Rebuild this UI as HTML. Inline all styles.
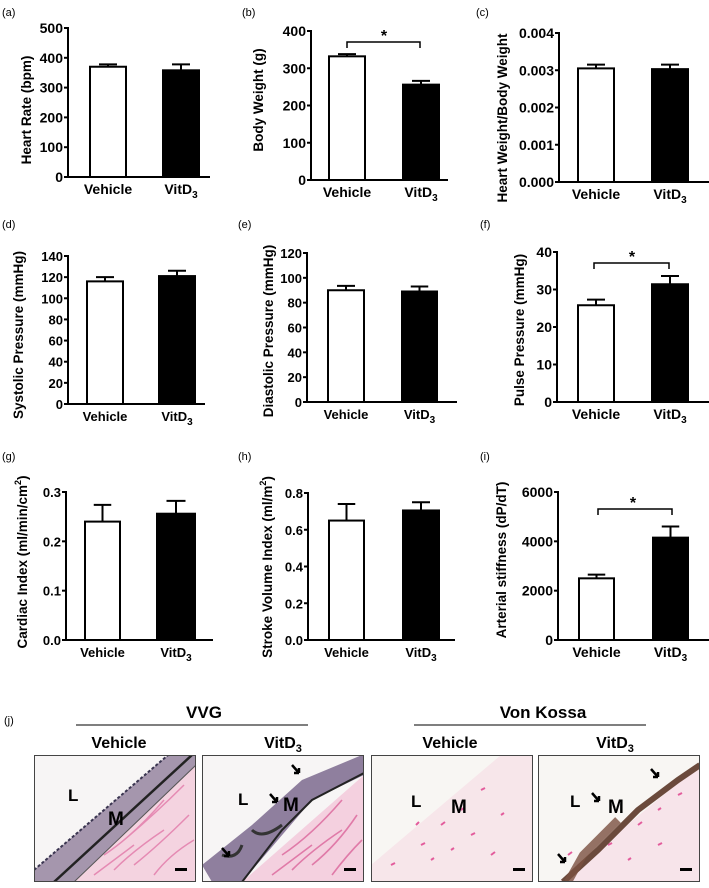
<!DOCTYPE html>
<html><head><meta charset="utf-8"><style>
html,body{margin:0;padding:0;background:#fff;}
svg{display:block;font-family:"Liberation Sans",Arial,sans-serif;}
</style></head><body>
<svg id="fig" width="709" height="888" viewBox="0 0 709 888" xmlns="http://www.w3.org/2000/svg">
<defs>
<clipPath id="c1"><rect x="0" y="0" width="162" height="127"/></clipPath>
</defs>
<g id="charts"></g>

<!-- Panel j -->
<g font-weight="bold">
<text x="4" y="724" font-size="11" font-weight="normal">(j)</text>
<text x="204" y="718" font-size="17" text-anchor="middle">VVG</text>
<line x1="76" y1="725" x2="308" y2="725" stroke="#333" stroke-width="1.2"/>
<text x="543" y="718" font-size="17" text-anchor="middle">Von Kossa</text>
<line x1="414" y1="725" x2="646" y2="725" stroke="#333" stroke-width="1.2"/>
<text x="119" y="748" font-size="16" text-anchor="middle">Vehicle</text>
<text x="283" y="748" font-size="16" text-anchor="middle">VitD<tspan font-size="11" dy="4">3</tspan></text>
<text x="450" y="748" font-size="16" text-anchor="middle">Vehicle</text>
<text x="615" y="748" font-size="16" text-anchor="middle">VitD<tspan font-size="11" dy="4">3</tspan></text>

<g transform="translate(34,755)">
<g clip-path="url(#c1)">
<rect width="162" height="127" fill="#f7f5f5"/>
<polygon points="40,127 162,10 162,127" fill="#f4d3e0"/>
<path d="M60,120 q20,-15 40,-30 M80,115 q20,-20 50,-40 M100,110 q25,-20 55,-50 M70,100 q30,-20 60,-55 M120,120 q15,-20 40,-35 M90,85 q30,-25 60,-55" stroke="#e58ab3" stroke-width="1.5" fill="none"/>
<polygon points="0,115 0,127 40,127 162,10 162,-5 140,-5" fill="#a596ad"/>
<path d="M0,115 L140,-5" stroke="#3a3550" stroke-width="2" fill="none" stroke-dasharray="3,2"/>
<path d="M20,127 L158,0" stroke="#222" stroke-width="2.5" fill="none"/>
<path d="M40,127 L162,10" stroke="#555" stroke-width="1" fill="none"/>
</g>
<rect x="0.5" y="0.5" width="161" height="126" fill="none" stroke="#444"/>
<text x="34" y="46" font-size="17">L</text>
<text x="74" y="70" font-size="19">M</text>
<rect x="141" y="113" width="12" height="3" fill="#000"/>
</g>

<g transform="translate(202,755)">
<g clip-path="url(#c1)">
<rect width="162" height="127" fill="#f7f5f5"/>
<polygon points="40,127 162,20 162,127" fill="#f4d0df"/>
<path d="M70,120 q20,-15 40,-30 M90,115 q20,-20 50,-40 M110,110 q25,-20 45,-50 M80,100 q30,-20 60,-55 M130,120 q15,-20 30,-35" stroke="#e07aa8" stroke-width="1.6" fill="none"/>
<polygon points="10,127 0,110 50,70 100,25 160,0 162,0 162,20 110,45 40,127" fill="#8f7f9e"/>
<path d="M40,127 L80,75 L110,45 L162,18" stroke="#222" stroke-width="2" fill="none"/>
<path d="M50,75 q10,10 30,-5 M20,100 q15,5 20,-10" stroke="#333" stroke-width="3" fill="none"/>
</g>
<rect x="0.5" y="0.5" width="161" height="126" fill="none" stroke="#444"/>
<text x="36" y="50" font-size="17">L</text>
<text x="81" y="56" font-size="19">M</text>
<path d="M90,10 l7,8 M97,18 l-5,0 M97,18 l0,-5" stroke="#000" stroke-width="2.5" fill="none"/>
<path d="M68,39 l7,8 M75,47 l-5,0 M75,47 l0,-5" stroke="#000" stroke-width="2.5" fill="none"/>
<path d="M20,93 l7,8 M27,101 l-5,0 M27,101 l0,-5" stroke="#000" stroke-width="2.5" fill="none"/>
<rect x="142" y="113" width="12" height="3" fill="#000"/>
</g>

<g transform="translate(371,755)">
<g clip-path="url(#c1)">
<rect width="162" height="127" fill="#f8f6f3"/>
<polygon points="0,127 0,110 130,0 162,0 162,127" fill="#f7e6ea"/>
<path d="M20,110 l4,-2 M50,90 l4,-2 M70,70 l4,-3 M90,55 l3,-2 M110,35 l4,-2 M60,105 l3,-2 M100,80 l4,-2 M130,60 l3,-2 M80,95 l3,-2 M120,100 l4,-3 M45,70 l3,-3" stroke="#e35c9c" stroke-width="2"/>
</g>
<rect x="0.5" y="0.5" width="161" height="126" fill="none" stroke="#444"/>
<text x="40" y="52" font-size="17">L</text>
<text x="80" y="58" font-size="19">M</text>
<rect x="142" y="113" width="12" height="3" fill="#000"/>
</g>

<g transform="translate(538,755)">
<g clip-path="url(#c1)">
<rect width="162" height="127" fill="#f8f6f3"/>
<polygon points="20,127 162,10 162,127" fill="#f7e4ea"/>
<path d="M40,110 l4,-2 M70,90 l4,-2 M100,70 l4,-3 M120,55 l3,-2 M140,40 l4,-2 M90,105 l3,-2 M120,90 l4,-2 M30,100 l4,-3" stroke="#e35c9c" stroke-width="2"/>
<path d="M25,127 L60,95 L100,55 L140,25 L162,10" stroke="#6b4a3c" stroke-width="6" fill="none"/>
<path d="M30,127 L45,100 L80,65" stroke="#7a5040" stroke-width="8" fill="none" opacity="0.8"/>
</g>
<rect x="0.5" y="0.5" width="161" height="126" fill="none" stroke="#444"/>
<text x="32" y="52" font-size="17">L</text>
<text x="70" y="58" font-size="19">M</text>
<path d="M113,14 l7,8 M120,22 l-5,0 M120,22 l0,-5" stroke="#000" stroke-width="2.5" fill="none"/>
<path d="M54,38 l7,8 M61,46 l-5,0 M61,46 l0,-5" stroke="#000" stroke-width="2.5" fill="none"/>
<path d="M20,99 l7,8 M27,107 l-5,0 M27,107 l0,-5" stroke="#000" stroke-width="2.5" fill="none"/>
<rect x="142" y="113" width="12" height="3" fill="#000"/>
</g>
</g>
</svg>
<script>
// ---- data ----
const categories = ["Vehicle", "VitD3"];
const heartRate = [370, 358];         const heartRateErr = [8, 20];
const bodyWeight = [332, 256];        const bodyWeightErr = [6, 10];
const hwbw = [0.00305, 0.00303];      const hwbwErr = [0.0001, 0.00012];
const systolic = [116, 121];          const systolicErr = [4, 5];
const diastolic = [90, 89];           const diastolicErr = [3.5, 4];
const pulse = [25.8, 31.4];           const pulseErr = [1.5, 2.2];
const cardiacIndex = [0.24, 0.256];   const cardiacIndexErr = [0.034, 0.026];
const strokeVol = [0.65, 0.705];      const strokeVolErr = [0.09, 0.045];
const stiffness = [2500, 4150];       const stiffnessErr = [150, 450];
const ticksA = ["0","100","200","300","400","500"];
const ticksB = ["0","100","200","300","400"];
const ticksC = ["0.000","0.001","0.002","0.003","0.004"];
const ticksD = ["0","20","40","60","80","100","120","140"];
const ticksE = ["0","20","40","60","80","100","120"];
const ticksF = ["0","10","20","30","40"];
const ticksG = ["0.0","0.1","0.2","0.3"];
const ticksH = ["0.0","0.2","0.4","0.6","0.8"];
const ticksI = ["0","2000","4000","6000"];

// ---- layout ----
const panels = [
 {id:"a",label:"(a)",lx:2,ly:16,ax:68,top:28,bot:177,end:210,bars:[[90,126],[163,199]],vals:heartRate,errs:heartRateErr,ticks:ticksA,title:"Heart Rate (bpm)",tx:31,ty:110,fs:14},
 {id:"b",label:"(b)",lx:242,ly:16,ax:311,top:31,bot:180,end:448,bars:[[329,365],[403,439]],vals:bodyWeight,errs:bodyWeightErr,ticks:ticksB,title:"Body Weight (g)",tx:263,ty:100,fs:14,sig:{x1:347,x2:420,y:42,sx:384,sy:42}},
 {id:"c",label:"(c)",lx:476,ly:16,ax:559,top:33,bot:182,end:709,bars:[[578,614],[652,688]],vals:hwbw,errs:hwbwErr,ticks:ticksC,title:"Heart Weight/Body Weight",tx:507,ty:118,fs:14},
 {id:"d",label:"(d)",lx:2,ly:228,ax:68,top:256,bot:404,end:205,bars:[[87,123],[159,195]],vals:systolic,errs:systolicErr,ticks:ticksD,title:"Systolic Pressure (mmHg)",tx:23,ty:335,fs:13},
 {id:"e",label:"(e)",lx:238,ly:228,ax:307,top:253,bot:402,end:457,bars:[[328,364],[402,437]],vals:diastolic,errs:diastolicErr,ticks:ticksE,title:"Diastolic Pressure (mmHg)",tx:273,ty:331,fs:13},
 {id:"f",label:"(f)",lx:480,ly:228,ax:557,top:252,bot:402,end:709,bars:[[578,614],[652,688]],vals:pulse,errs:pulseErr,ticks:ticksF,title:"Pulse Pressure (mmHg)",tx:524,ty:330,fs:14,sig:{x1:594,x2:669,y:263,sx:632,sy:263}},
 {id:"g",label:"(g)",lx:2,ly:460,ax:66,top:492,bot:640,end:213,bars:[[85,120],[157,195]],vals:cardiacIndex,errs:cardiacIndexErr,ticks:ticksG,title:"Cardiac Index (ml/min/cm²)",tx:27,ty:562,fs:13},
 {id:"h",label:"(h)",lx:238,ly:460,ax:308,top:493,bot:640,end:455,bars:[[329,364],[403,439]],vals:strokeVol,errs:strokeVolErr,ticks:ticksH,title:"Stroke Volume Index (ml/m²)",tx:272,ty:567,fs:13},
 {id:"i",label:"(i)",lx:480,ly:460,ax:558,top:492,bot:640,end:709,bars:[[579,614],[653,688]],vals:stiffness,errs:stiffnessErr,ticks:ticksI,title:"Arterial stiffness (dP/dT)",tx:506,ty:560,fs:14,sig:{x1:598,x2:672,y:509,sx:633,sy:509}}
];
const NS="http://www.w3.org/2000/svg";
const root=document.getElementById("charts");
function mk(tag,attrs,parent,text){const e=document.createElementNS(NS,tag);for(const k in attrs)e.setAttribute(k,attrs[k]);if(text!==undefined)e.textContent=text;parent.appendChild(e);return e;}

panels.forEach(p=>{
  const g=mk("g",{},root);
  
  
  const maxV=parseFloat(p.ticks[p.ticks.length-1]);
  const y=v=>p.bot-(v/maxV)*(p.bot-p.top);
  const lab=mk("text",{x:p.lx,y:p.ly,"font-size":11},g,p.label);
  
  
  const ya=mk("line",{x1:p.ax,y1:p.top-1,x2:p.ax,y2:p.bot+1,stroke:"#000","stroke-width":2},g);
  
  
  const xa=mk("line",{x1:p.ax-1,y1:p.bot,x2:p.end,y2:p.bot,stroke:"#000","stroke-width":2},g);
  
  
  p.ticks.forEach(t=>{
    const ty=y(parseFloat(t));
    mk("line",{x1:p.ax-4,y1:ty,x2:p.ax,y2:ty,stroke:"#000","stroke-width":2},g);
    const tl=mk("text",{x:p.ax-5,y:ty+5,"font-size":p.fs,"font-weight":"bold","text-anchor":"end"},g,t);
    
    
  });
  const tt=mk("text",{x:0,y:0,"font-size":13.5,"font-weight":"bold","text-anchor":"middle",transform:`translate(${p.tx},${p.ty}) rotate(-90)`},g);
  if(p.title.indexOf("²")>=0){
    const parts=p.title.split("²");
    mk("tspan",{},tt,parts[0]);
    mk("tspan",{"font-size":9,dy:-6},tt,"2");
    mk("tspan",{dy:6},tt,parts[1]);
  } else tt.textContent=p.title;
  
  
  categories.forEach((c,i)=>{
    const [x1,x2]=p.bars[i];
    const top=y(p.vals[i]);
    const eTop=y(p.vals[i]+p.errs[i]);
    const cx=(x1+x2)/2, w=x2-x1;
    const el=mk("line",{x1:cx,y1:top,x2:cx,y2:eTop,stroke:"#000","stroke-width":2},g);
    
    
    mk("line",{x1:cx-w*0.25,y1:eTop,x2:cx+w*0.25,y2:eTop,stroke:"#000","stroke-width":2},g);
    const r=mk("rect",{x:x1,y:top,width:w,height:p.bot-top,fill:i===0?"#fff":"#000",stroke:"#000","stroke-width":2},g);
    
    
    const xl=mk("text",{x:cx,y:p.bot+17,"font-size":p.fs,"font-weight":"bold","text-anchor":"middle"},g);
    if(c==="VitD3"){mk("tspan",{},xl,"VitD");mk("tspan",{"font-size":10,dy:4},xl,"3");}
    else xl.textContent=c;
    
    
  });
  if(p.sig){
    const s=p.sig;
    const br=mk("path",{d:`M${s.x1},${s.y+6} V${s.y} H${s.x2} V${s.y+6}`,stroke:"#000","stroke-width":1.5,fill:"none"},g);
    
    
    const st=mk("text",{x:s.sx,y:s.sy-1,"font-size":16,"font-weight":"bold","text-anchor":"middle"},g,"*");
    
    
  }
});
</script>
</body></html>
